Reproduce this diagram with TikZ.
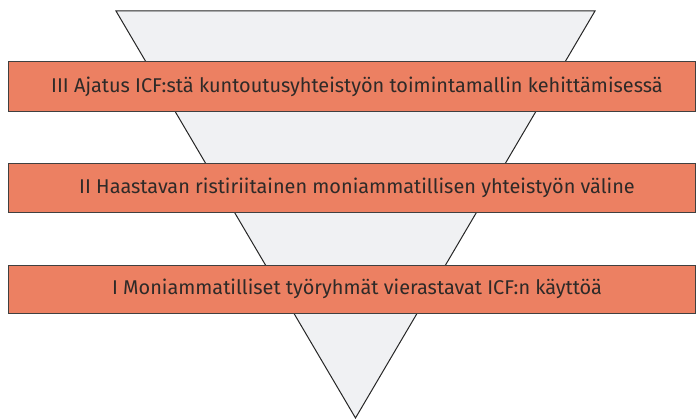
\documentclass[tikz,border=0pt]{standalone}
\usepackage{fontspec}
\setmainfont{Fira Sans}
\definecolor{barfill}{HTML}{EC8062}
\definecolor{tri}{HTML}{F0F1F3}
\definecolor{txt}{HTML}{2E2A28}
\begin{document}
\begin{tikzpicture}[x=1pt,y=-1pt,
  bar/.style={fill=barfill,draw=black!75,line width=1pt},
  lbl/.style={text=txt,font=\fontsize{19.9}{23}\selectfont,anchor=center}]
\useasboundingbox (0,0) rectangle (697,420);
\coordinate (tl) at (116,11);
\coordinate (tr) at (595,11);
\coordinate (bt) at (355.5,418);
\draw[fill=tri,draw=black!85,line width=1pt] (tl) -- (tr) -- (bt) -- cycle;
\draw[bar] (8,62) rectangle (695,112);
\draw[bar] (8,163) rectangle (695,212);
\draw[bar] (8,265) rectangle (695,313);
\node[lbl] (l3) at (357,87) {III Ajatus ICF:stä kuntoutusyhteistyön toimintamallin kehittämisessä};
\node[lbl] (l2) at (357,188) {II Haastavan ristiriitainen moniammatillisen yhteistyön väline};
\node[lbl] (l1) at (357,289) {I Moniammatilliset työryhmät vierastavat ICF:n käyttöä};
\end{tikzpicture}
\end{document}
